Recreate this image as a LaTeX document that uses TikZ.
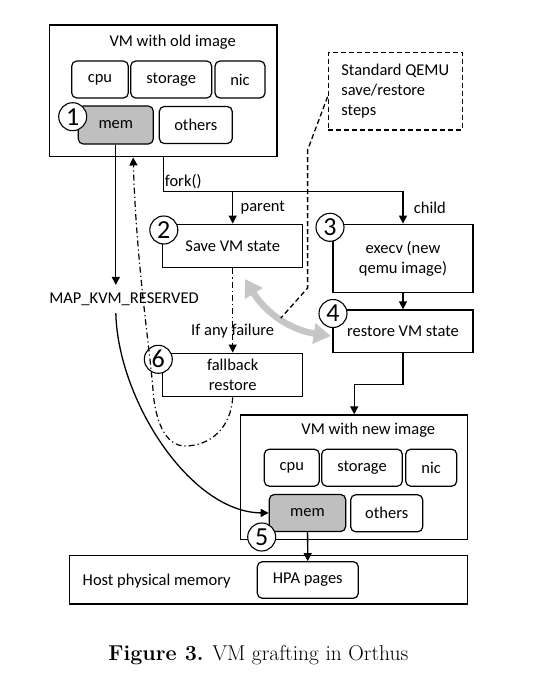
\documentclass[tikz,border=0pt]{standalone}
\usepackage{fontspec}
\newfontfamily\calibri{Carlito}
\usetikzlibrary{arrows.meta}

\tikzset{
	box/.style={draw, line width=1.4pt, inner sep=0pt},
	part/.style={draw, line width=1.2pt, rounded corners=5pt, minimum height=37pt, inner sep=0pt},
	stepbox/.style={draw, line width=1.4pt, minimum width=140pt, align=center, inner sep=0pt},
	num/.style={circle, draw, line width=1.1pt, fill=white, minimum size=28pt, inner sep=0pt, font=\calibri\fontsize{26}{26}\selectfont},
	dashdot/.style={line width=1.2pt, dash pattern=on 6pt off 3pt on 1.2pt off 3pt},
	swaparrow/.style={draw=gray!45, line width=6.5pt, {Triangle[length=17pt,width=20pt]}-{Triangle[length=17pt,width=20pt]}},
}

\begin{document}
\begin{tikzpicture}[x=1pt, y=-1pt, line width=1.3pt, font=\calibri\fontsize{16.5}{20}\selectfont, >={Triangle[length=8pt,width=8pt]}]
	\useasboundingbox (0,0) rectangle (542,680);
	% old image
	\node[box, minimum width=227.7pt, minimum height=131.7pt] (oldvm) at (163.2,90.9) {};
	\node (oldtitle) at (172.7,41.7) {VM with old image};
	\node[part, minimum width=56.6pt] (oldcpu) at (100,79.5) {cpu};
	\node[part, minimum width=81pt] (oldstorage) at (171.2,79.5) {storage};
	\node[part, minimum width=50pt] (oldnic) at (240,79.5) {nic};
	\node[part, fill=gray!50, minimum width=75pt, minimum height=38pt] (oldmem) at (115.8,125) {mem};
	\node[part, minimum width=73pt] (oldothers) at (195.8,125) {others};
	\node[num] (n1) at (72.7,116.7) {1};
	\node[draw, line width=1.4pt, dash pattern=on 5pt off 3pt, minimum width=134pt, minimum height=77.3pt, align=left, inner sep=0pt] (qemu) at (395.3,91.4) {Standard QEMU\\save/restore\\steps};
	% steps
	\node[stepbox, minimum height=43.4pt] (save) at (232.7,246) {Save VM state};
	\node[stepbox, minimum height=68.4pt] (execv) at (403,258.5) {execv (new\\qemu image)};
	\node[stepbox, minimum height=42.7pt] (restore) at (403,331.4) {restore VM state};
	\node[stepbox, minimum height=43.4pt] (fallback) at (232.7,375) {fallback\\restore};
	\node[num] (n2) at (163.8,230) {2};
	\node[num] (n3) at (330,227.3) {3};
	\node[num] (n4) at (333,313.5) {4};
	\node[num] (n6) at (158.3,359.3) {6};
	\node[inner ysep=7pt] (mapkvm) at (124,299) {MAP\_KVM\_RESERVED};
	% new image
	\node[box, minimum width=227pt, minimum height=124.3pt] (newvm) at (354.2,477.2) {};
	\node (newtitle) at (368.3,430) {VM with new image};
	\node[part, minimum width=55pt] (newcpu) at (291.8,467.7) {cpu};
	\node[part, minimum width=80.6pt] (newstorage) at (362,467.7) {storage};
	\node[part, minimum width=51pt] (newnic) at (431.2,467.7) {nic};
	\node[part, fill=gray!50, minimum width=76.4pt] (newmem) at (307.5,513) {mem};
	\node[part, minimum width=72pt] (newothers) at (386.7,513.3) {others};
	\node[num] (n5) at (261.7,537) {5};
	\node[box, minimum width=398.4pt, minimum height=48.3pt] (host) at (268.5,579.9) {};
	\node (hostlbl) at (156.7,580.7) {Host physical memory};
	\node[part, minimum width=101pt, minimum height=36.6pt] (hpa) at (307.8,580) {HPA pages};
	\node[font=\fontsize{21.5}{26}\selectfont] (caption) at (258.3,655) {\textbf{Figure 3.} VM grafting in Orthus};
	% connectors
	\draw[->] (oldvm.south) -- ++(0,34) coordinate (fork) -| (execv.north);
	\node[anchor=west, inner sep=1pt] (forklbl) at ([yshift=9.7pt]fork) {fork()};
	\path[->] (fork -| save.north) edge (save.north);
	\node[anchor=west, inner sep=0pt] (parentlbl) at (240,208) {parent};
	\node[anchor=west, inner sep=0pt] (childlbl) at (413.3,208) {child};
	\path[->] (execv) edge (restore);
	\draw[->] (restore.south) -- ++(0,31) -| (newvm.north);
	\path[->] (newmem) edge (hpa);
	\draw[->] (oldmem.south) -- (oldmem.south |- mapkvm.north);
	\draw[->] (oldmem.south |- mapkvm.south) .. controls (118,400) and (190,512) .. (newmem.west);
	\path[->, dashdot] (save) edge node[pos=.75] {If any failure} (fallback);
	\draw[->, dashdot] (fallback.south) .. controls (231,428) and (210,446) .. (185,446)
		.. controls (165,446) and (155,420) .. (153,390)
		.. controls (150,350) and (136,260) .. ([xshift=-30pt]oldvm.south);
	\draw[swaparrow] ([xshift=12.3pt,yshift=-10.6pt]save.south) to[bend right=25] coordinate[pos=.5] (swapmid) ([xshift=-1.6pt,yshift=-4.6pt]restore.west);
	\draw[dash pattern=on 5pt off 3pt] ([yshift=-5.3pt]qemu.west) -- ++(-20,53.3) -- ++(0,138) -- (swapmid);
\end{tikzpicture}
\end{document}
